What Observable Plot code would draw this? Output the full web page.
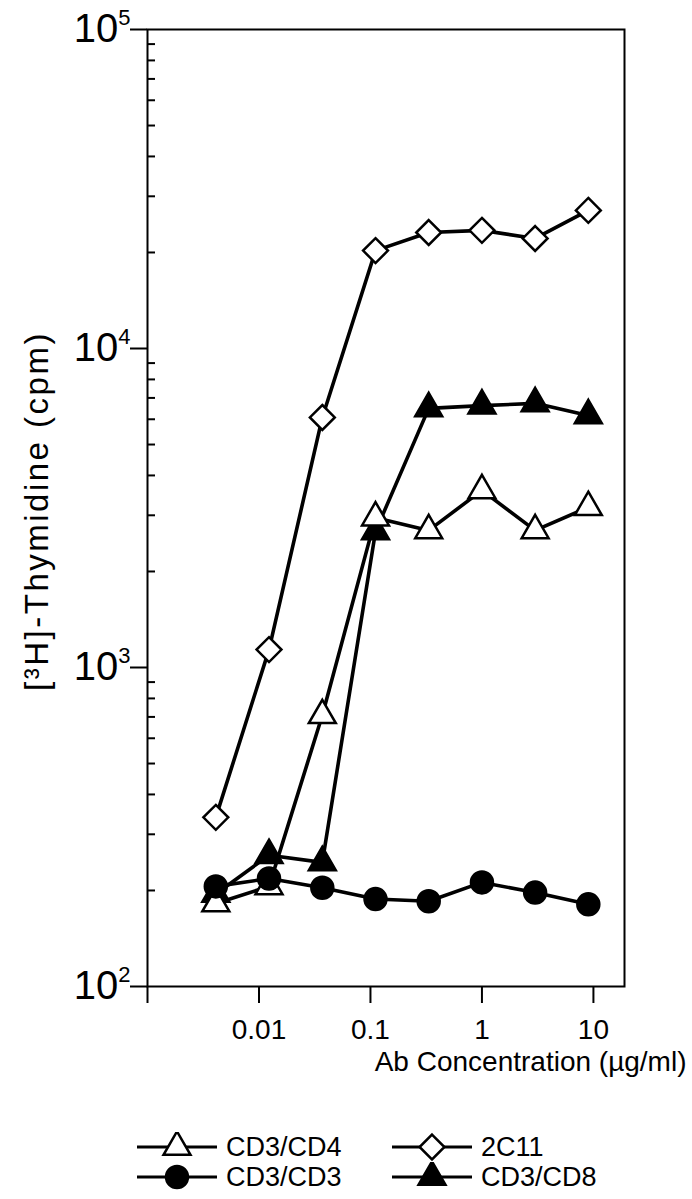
<!DOCTYPE html>
<html>
<head>
<meta charset="utf-8">
<script src="https://cdn.jsdelivr.net/npm/d3@7"></script>
<script src="https://cdn.jsdelivr.net/npm/@observablehq/plot@0.6"></script>
<style>
  body { margin: 0; background: #fff; font-family: "Liberation Sans", Arial, Helvetica, sans-serif; }
  #chart svg { display: block; font-family: "Liberation Sans", Arial, Helvetica, sans-serif; }
  #legend { position: relative; width: 692px; height: 99px; font-size: 27px; color: #000; }
  .item { position: absolute; display: flex; align-items: center; height: 30px; }
  .item svg { display: block; margin-right: 9px; }
</style>
</head>
<body>
<div id="chart"></div>
<div id="legend"></div>
<script>
// ---- data ----
const concentrations = [0.0041, 0.0123, 0.037, 0.111, 0.333, 1, 3, 9];   // µg/ml
const cd3cd4 = [182, 206, 708, 2950, 2690, 3590, 2690, 3180];
const cd3cd3 = [206, 218, 204, 188, 185, 212, 197, 181];
const c2c11  = [339, 1138, 6080, 20270, 23100, 23460, 22130, 27100];
const cd3cd8 = [195, 258, 245, 2670, 6490, 6620, 6730, 6170];
const seriesNames = ["CD3/CD4", "CD3/CD3", "2C11", "CD3/CD8"];
const xTicks = [0.001, 0.01, 0.1, 1, 10];
const xTickLabels = ["", "0.01", "0.1", "1", "10"];
const yTicks = [100, 1000, 10000, 100000];
const yTickExponents = ["2", "3", "4", "5"];
const xTitle = "Ab Concentration (µg/ml)";
const yTitle = "[³H]-Thymidine (cpm)";

const yMinorTicks = [];
for (const d of [100, 1000, 10000]) for (let m = 2; m <= 9; m++) yMinorTicks.push(d * m);

const series = [
  {name: seriesNames[0], values: cd3cd4, symbol: "triangle", fill: "white", r: 10},
  {name: seriesNames[1], values: cd3cd3, symbol: "circle",   fill: "black", r: 11},
  {name: seriesNames[2], values: c2c11,  symbol: "diamond2", fill: "white", r: 11.2},
  {name: seriesNames[3], values: cd3cd8, symbol: "triangle", fill: "black", r: 10}
];
const rowsOf = s => s.values.map((v, i) => ({series: s.name, x: concentrations[i], y: v}));
const drawOrder = [3, 0, 1, 2];

const W = 692, H = 1100;
const chart = Plot.plot({
  width: W, height: H,
  marginTop: 29, marginLeft: 147, marginRight: 68, marginBottom: H - 986,
  style: {fontFamily: '"Liberation Sans", Arial, Helvetica, sans-serif', color: "black", background: "white"},
  x: {type: "log", domain: [0.001, 19]},
  y: {type: "log", domain: [100, 100000]},
  marks: [
    Plot.axisX({ticks: xTicks, tickSize: 17, tickPadding: 16, strokeWidth: 2, fontSize: 28,
      tickFormat: d => xTickLabels[xTicks.indexOf(d)], label: null}),
    Plot.axisY({ticks: yTicks, tickSize: 17, tickPadding: 0, strokeWidth: 2, fontSize: 40,
      tickFormat: d => "10|" + yTickExponents[yTicks.indexOf(d)], label: null, className: "ymajor"}),
    Plot.axisY({ticks: yMinorTicks, tickSize: -8, strokeWidth: 2, tickFormat: () => "", label: null}),
    Plot.frame({stroke: "black", strokeWidth: 2}),
    ...series.map(s => Plot.line(rowsOf(s), {x: "x", y: "y", stroke: "black", strokeWidth: 3.6})),
    ...drawOrder.map(k => Plot.dot(rowsOf(series[k]), {x: "x", y: "y", symbol: series[k].symbol,
      r: series[k].r, fill: series[k].fill, stroke: "black", strokeWidth: 2.5})),
    Plot.text([xTitle], {frameAnchor: "bottom-right", dx: 62, dy: 76, textAnchor: "end",
      lineAnchor: "middle", fontSize: 28, fill: "black"}),
    Plot.text([yTitle], {frameAnchor: "left", rotate: -90, dx: -110, dy: 3, textAnchor: "middle",
      lineAnchor: "middle", fontSize: 33, fill: "black", className: "ytitle"})
  ]
});
document.getElementById("chart").appendChild(chart);
d3.select(chart).selectAll("g.ytitle text").attr("letter-spacing", 2.5);

// superscript exponents on the y tick labels
d3.select(chart).selectAll("g.ymajor text, g[aria-label='y-axis tick label'] text").each(function () {
  const t = d3.select(this);
  const s = t.text();
  if (!s.includes("|")) return;
  const [base, exp] = s.split("|");
  t.text(null);
  t.append("tspan").text(base);
  t.append("tspan").attr("dy", -17).attr("font-size", 22).text(exp);
});

// legend
const legendItems = [
  {k: 0, left: 137, top: 32},
  {k: 1, left: 137, top: 62},
  {k: 2, left: 392, top: 32},
  {k: 3, left: 392, top: 62}
];
const legend = d3.select("#legend");
for (const it of legendItems) {
  const s = series[it.k];
  const div = legend.append("div").attr("class", "item")
    .style("left", it.left + "px").style("top", it.top + "px");
  const svg = div.append("svg").attr("width", 80).attr("height", 30);
  svg.append("line").attr("x1", 0).attr("x2", 80).attr("y1", 15).attr("y2", 15)
    .attr("stroke", "black").attr("stroke-width", 3);
  const symType = {triangle: d3.symbolTriangle, circle: d3.symbolCircle, diamond2: d3.symbolDiamond2}[s.symbol];
  svg.append("path").attr("transform", "translate(40,15)")
    .attr("d", d3.symbol(symType, Math.PI * s.r * s.r)())
    .attr("fill", s.fill).attr("stroke", "black").attr("stroke-width", 2.5);
  div.append("span").text(s.name);
}
</script>
</body>
</html>
